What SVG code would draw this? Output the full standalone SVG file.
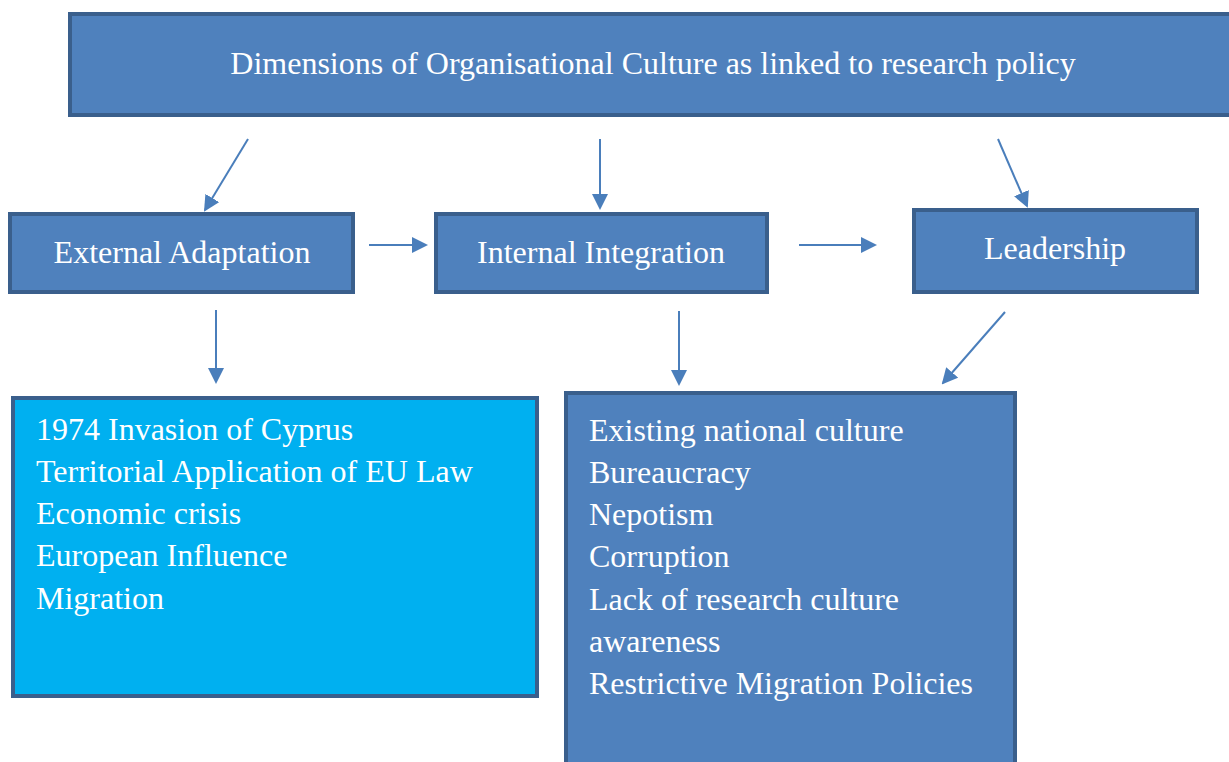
<svg xmlns="http://www.w3.org/2000/svg" width="1229" height="762" viewBox="0 0 1229 762">
<style>
.box{fill:#4F81BD;stroke:#3A5F8C;stroke-width:4}
.lbox{fill:#00B0F0;stroke:#3A5F8C;stroke-width:4}
.t{font-family:"Liberation Serif","Times New Roman",serif;fill:#FFFFFF;font-size:32px}
.c{stroke:#4A7EBB;stroke-width:2;fill:none;marker-end:url(#ah)}
</style>
<defs>
<marker id="ah" markerWidth="8" markerHeight="8" refX="7" refY="4" orient="auto" markerUnits="strokeWidth">
<path d="M0,0 L8,4 L0,8 Z" fill="#4A7EBB"/>
</marker>
</defs>
<rect width="1229" height="762" fill="#FFFFFF"/>
<g id="title">
<rect class="box" x="70" y="14" width="1170" height="101"/>
<text class="t" x="653" y="74" text-anchor="middle">Dimensions of Organisational Culture as linked to research policy</text>
</g>
<g id="external">
<rect class="box" x="10" y="214" width="343" height="78"/>
<text class="t" x="182" y="263" text-anchor="middle">External Adaptation</text>
</g>
<g id="internal">
<rect class="box" x="436" y="214" width="331" height="78"/>
<text class="t" x="601" y="263" text-anchor="middle">Internal Integration</text>
</g>
<g id="leadership">
<rect class="box" x="914" y="210" width="283" height="82"/>
<text class="t" x="1055" y="259" text-anchor="middle">Leadership</text>
</g>
<g id="external-factors">
<rect class="lbox" x="13" y="398" width="524" height="298"/>
<text class="t">
<tspan x="36" y="440">1974 Invasion of Cyprus</tspan>
<tspan x="36" y="482">Territorial Application of EU Law</tspan>
<tspan x="36" y="524">Economic crisis</tspan>
<tspan x="36" y="566">European Influence</tspan>
<tspan x="36" y="609">Migration</tspan>
</text>
</g>
<g id="internal-factors">
<rect class="box" x="566" y="393" width="449" height="400"/>
<text class="t">
<tspan x="589" y="441">Existing national culture</tspan>
<tspan x="589" y="483">Bureaucracy</tspan>
<tspan x="589" y="525">Nepotism</tspan>
<tspan x="589" y="567">Corruption</tspan>
<tspan x="589" y="610">Lack of research culture</tspan>
<tspan x="589" y="652">awareness</tspan>
<tspan x="589" y="694">Restrictive Migration Policies</tspan>
</text>
</g>
<g id="connectors">
<line class="c" x1="248" y1="139" x2="205" y2="210"/>
<line class="c" x1="600" y1="139" x2="600" y2="208"/>
<line class="c" x1="998" y1="139" x2="1027" y2="206"/>
<line class="c" x1="369" y1="245" x2="426" y2="245"/>
<line class="c" x1="799" y1="245" x2="875" y2="245"/>
<line class="c" x1="216" y1="310" x2="216" y2="382"/>
<line class="c" x1="679" y1="311" x2="679" y2="384"/>
<line class="c" x1="1005" y1="312" x2="943" y2="383"/>
</g>
</svg>
